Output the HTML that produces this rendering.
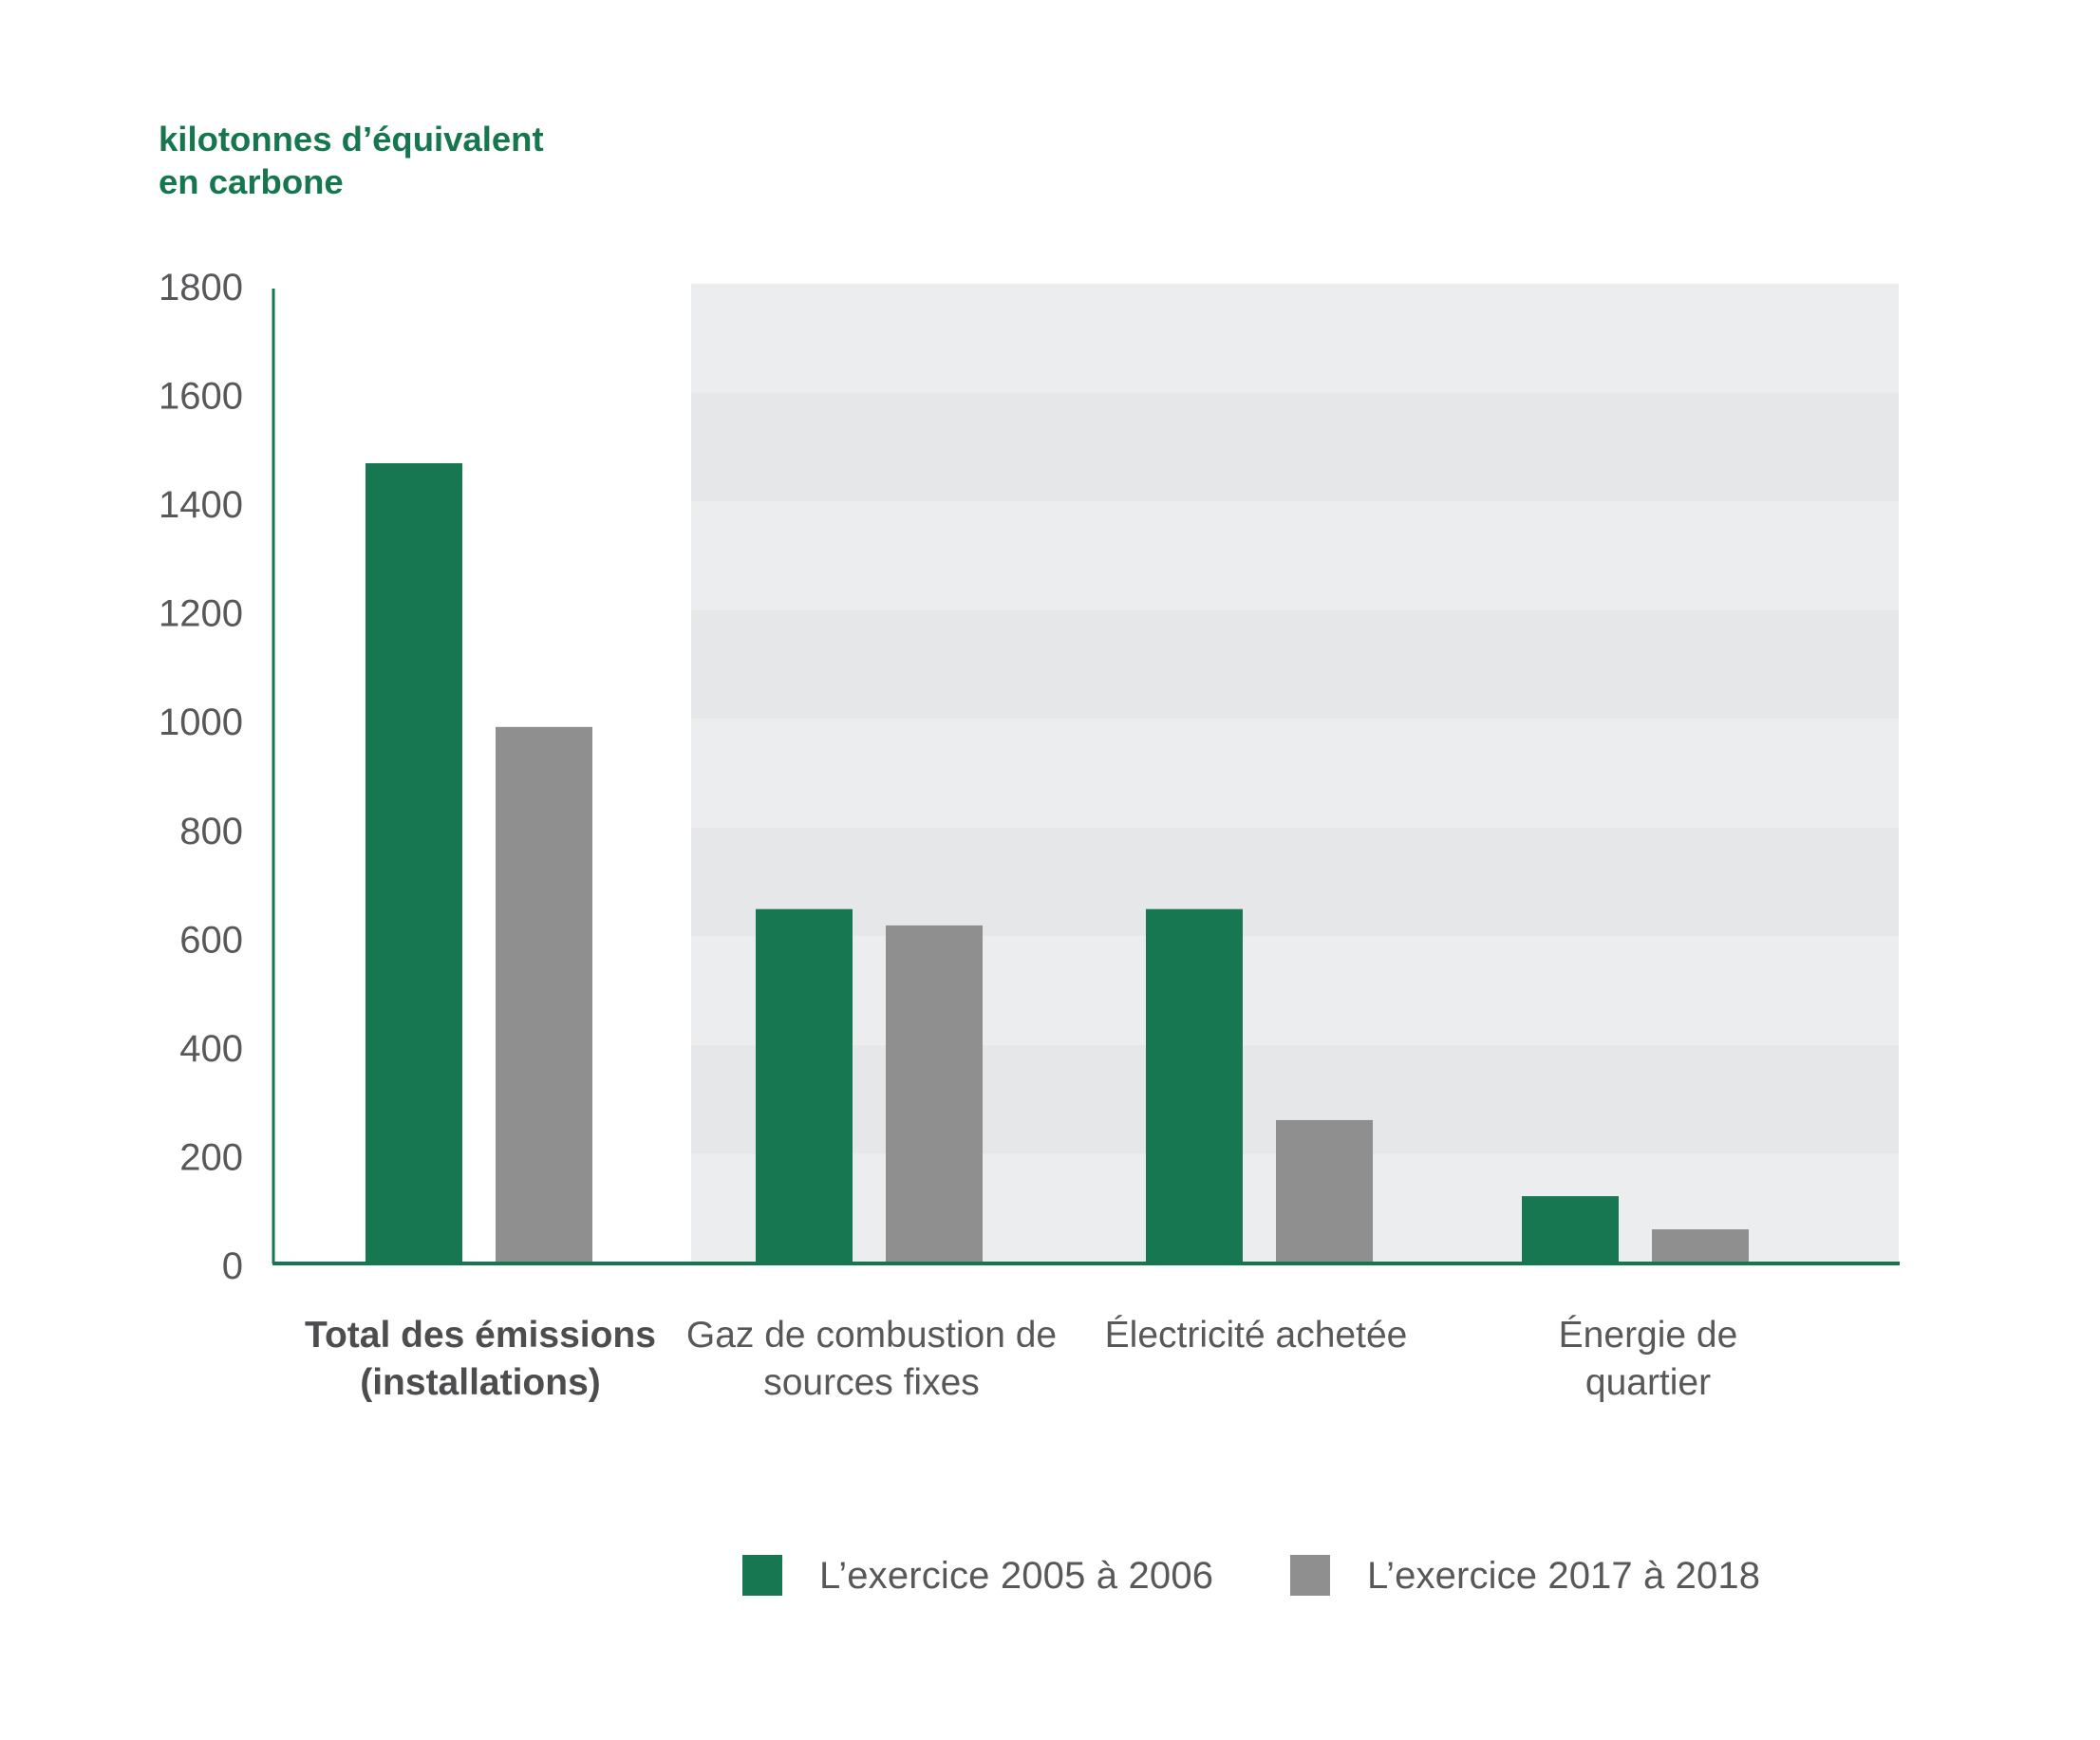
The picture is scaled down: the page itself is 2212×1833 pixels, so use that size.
<!DOCTYPE html>
<html><head><meta charset="utf-8"><style>
html,body{margin:0;padding:0;background:#fff;}
svg{display:block;}
text{font-family:"Liberation Sans",sans-serif;}
</style></head>
<body>
<svg id="chart" width="2212" height="1833" viewBox="0 0 2212 1833">
  <g id="bg"></g>
  <g id="yticks"></g>
  <g id="bars"></g>
  <g id="xlabels"></g>
  <line x1="288" y1="304" x2="288" y2="1331" stroke="#16774f" stroke-width="3"/>
  <line x1="287" y1="1331" x2="2001" y2="1331" stroke="#16774f" stroke-width="4"/>
  <text x="167" y="159" font-size="36.5" font-weight="bold" fill="#16774f">kilotonnes d’équivalent</text>
  <text x="167" y="204" font-size="36.5" font-weight="bold" fill="#16774f">en carbone</text>
  <g>
    <rect x="782" y="1638" width="42" height="43" fill="#167751"/>
    <text x="863" y="1673" font-size="40" fill="#58585a" textLength="415">L’exercice 2005 à 2006</text>
    <rect x="1359" y="1638" width="42" height="43" fill="#8f8f8f"/>
    <text x="1440" y="1673" font-size="40" fill="#58585a" textLength="414">L’exercice 2017 à 2018</text>
  </g>
</svg>
<script>
const categories = ["Total des émissions", "Gaz de combustion de sources fixes", "Électricité achetée", "Énergie de quartier"];
const series2005 = [1470, 650, 650, 122];
const series2017 = [985, 620, 262, 61];
const yTicks = [0, 200, 400, 600, 800, 1000, 1200, 1400, 1600, 1800];

const NS = "http://www.w3.org/2000/svg";
const y0 = 1330, yTop = 299, yMax = 1800;
function yScale(v){ return y0 - (v / yMax) * (y0 - yTop); }
const groupLeft = [385, 796, 1207, 1603];
const barW = 102, gap = 35;
function mk(tag, attrs, parent){ const e = document.createElementNS(NS, tag); for (const k in attrs) e.setAttribute(k, attrs[k]); parent.appendChild(e); return e; }

const bg = document.getElementById('bg');
for (let i = 0; i < yTicks.length - 1; i++) {
  const r = mk('rect', {x:728, y:yScale(yTicks[i+1]), width:1272, height:yScale(yTicks[i]) - yScale(yTicks[i+1]), fill: (i % 2 === 0) ? '#ecedee' : '#e6e7e8'}, bg);
  
  
}
const yt = document.getElementById('yticks');
yTicks.forEach(v => {
  const t = mk('text', {x:256, y:yScale(v) + 17, 'font-size':40, fill:'#58585a', 'text-anchor':'end'}, yt);
  t.textContent = v;
  
  
});
const bars = document.getElementById('bars');
categories.forEach((c, i) => {
  const x = groupLeft[i];
  const b1 = mk('rect', {x:x, y:yScale(series2005[i]), width:barW, height:y0 - yScale(series2005[i]), fill:'#167751'}, bars);
  
  
  const b2 = mk('rect', {x:x + barW + gap, y:yScale(series2017[i]), width:barW, height:y0 - yScale(series2017[i]), fill:'#8f8f8f'}, bars);
  
  
});
const labelLines = [["Total des émissions", "(installations)"], ["Gaz de combustion de", "sources fixes"], ["Électricité achetée"], ["Énergie de", "quartier"]];
const labelCenters = [506, 918, 1323, 1736];
const xl = document.getElementById('xlabels');
labelLines.forEach((lines, i) => {
  lines.forEach((ln, j) => {
    const t = mk('text', {x:labelCenters[i], y:1419 + j * 50, 'font-size':39, fill: i === 0 ? '#4d4d4f' : '#58585a', 'font-weight': i === 0 ? 'bold' : 'normal', 'text-anchor':'middle'}, xl);
    t.textContent = ln;
    
    
  });
});
</script>
</body></html>
